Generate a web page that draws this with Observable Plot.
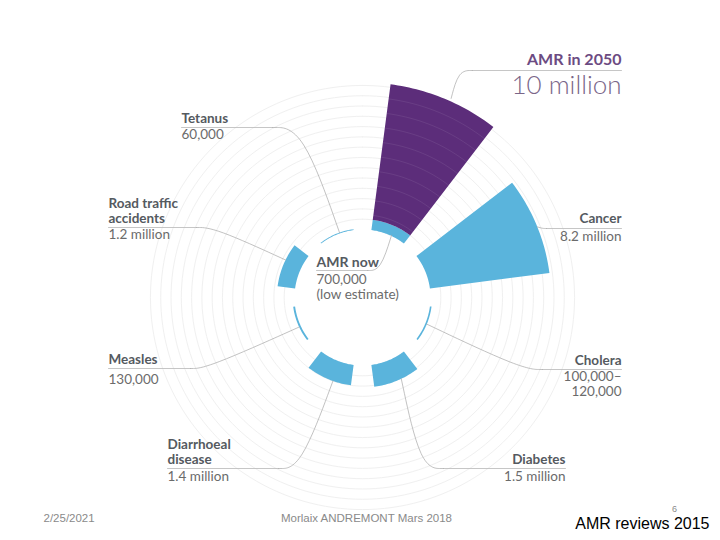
<!DOCTYPE html>
<html><head><meta charset="utf-8">
<script src="https://cdn.jsdelivr.net/npm/d3@7"></script>
<script src="https://cdn.jsdelivr.net/npm/@observablehq/plot@0.6"></script>
<style>body{margin:0;background:#fff;}</style>
</head><body><div id="chart"></div>
<script>
// ---- data ----
const categories = ["AMR in 2050","Cancer","Cholera","Diabetes","Diarrhoeal disease","Measles","Road traffic accidents","Tetanus"];
const deathsMillions = [10, 8.2, 0.11, 1.5, 1.4, 0.13, 1.2, 0.06];
const amrNowMillions = 0.7;
const titleLines = [["AMR in 2050"],["Cancer"],["Cholera"],["Diabetes"],["Diarrhoeal","disease"],["Measles"],["Road traffic","accidents"],["Tetanus"]];
const valueLines = [["10 million"],["8.2 million"],["100,000–","120,000"],["1.5 million"],["1.4 million"],["130,000"],["1.2 million"],["60,000"]];
const amrNowLines = ["AMR now","700,000","(low estimate)"];
const gridStepMillions = 0.7;
const footerLeft = "2/25/2021", footerCenter = "Morlaix ANDREMONT Mars 2018", footerRight = "AMR reviews 2015", slideNo = "6";

// ---- layout ----
const W = 720, H = 540, CX = 362, CY = 297, K = 14.7; // px per million
const R0 = 68 / K;             // inner hole, in million units
const ux = px => (px - CX) / K, uy = py => (CY - py) / K;
const n = categories.length, stepDeg = 360 / n, halfW = 15;
const PURPLE = "#5c2d7a", BLUE = "#5ab4dc";

function arc(t0, t1, r, seg = 30) {
  return d3.range(seg + 1).map(j => {
    const t = (t0 + (t1 - t0) * j / seg) * Math.PI / 180;
    return [r * Math.sin(t), r * Math.cos(t)];
  });
}
function polar(tDeg, r) { const t = tDeg * Math.PI / 180; return [r * Math.sin(t), r * Math.cos(t)]; }
function sector(id, t0, t1, rIn, rOut) {
  return [...arc(t0, t1, rOut), ...arc(t1, t0, rIn)].map(([x, y]) => ({id, x, y}));
}
const thetaOf = i => (i + 0.5) * stepDeg;

// bars
const blueBars = [], purpleBars = [];
categories.forEach((c, i) => {
  const th = thetaOf(i);
  if (i === 0) {
    purpleBars.push(...sector(c, th - halfW, th + halfW, R0 + amrNowMillions, R0 + deathsMillions[i]));
  } else {
    blueBars.push(...sector(c, th - halfW, th + halfW, R0, R0 + deathsMillions[i]));
  }
});
blueBars.push(...sector("AMR now", thetaOf(0) - halfW, thetaOf(0) + halfW, R0, R0 + amrNowMillions));

// grid rings
const gridRings = [];
d3.range(1, 15).forEach(k => arc(0, 360, R0 + k * gridStepMillions, 180).forEach(([x, y]) => gridRings.push({ring: k, x, y})));
// faint 1M lines across the purple bar
const purpleLines = [];
d3.range(1, 10).forEach(k => arc(thetaOf(0) - halfW, thetaOf(0) + halfW, R0 + k, 20).forEach(([x, y]) => purpleLines.push({ring: k, x, y})));

// annotation layout (px)
const labelLayout = [
  {anchor: "end",   x: 621, ty: 64,  ry: 70,  vy: 93,  rule: [472, 621], from: 472, elbow: 458, tOff: 1.5},
  {anchor: "end",   x: 621, ty: 222, ry: 228, vy: 240, rule: [546, 621], from: 546, elbow: 542, tOff: 1},
  {anchor: "end",   x: 621, ty: 364, ry: 369, vy: 380, rule: [542, 621], from: 542, elbow: 522, tOff: 0},
  {anchor: "end",   x: 565, ty: 463, ry: 468, vy: 480, rule: [443, 565], from: 443, elbow: 420, tOff: -3},
  {anchor: "start", x: 167, ty: 448, ry: 468, vy: 480, rule: [167, 278], from: 278, elbow: 300, tOff: -3},
  {anchor: "start", x: 108, ty: 363, ry: 368, vy: 383, rule: [108, 190], from: 190, elbow: 206, tOff: -2.5},
  {anchor: "start", x: 108, ty: 207, ry: 227, vy: 238, rule: [108, 196], from: 196, elbow: 214, tOff: 3.5},
  {anchor: "start", x: 181, ty: 122, ry: 127, vy: 138, rule: [181, 272], from: 272, elbow: 302, tOff: 3}
];

const rules = [], leaders = [], titles = [], values = [];
labelLayout.forEach((L, i) => {
  rules.push({id: i, x: ux(L.rule[0]), y: uy(L.ry)}, {id: i, x: ux(L.rule[1]), y: uy(L.ry)});
  const [bx, by] = polar(thetaOf(i) + L.tOff + (i === 1 ? -0.5 : 0), R0 + deathsMillions[i] + (i === 0 ? 0.2 : 0));
  leaders.push({id: i, x: ux(L.from), y: uy(L.ry)}, {id: i, x: ux(L.elbow), y: uy(L.ry)}, {id: i, x: bx, y: by});
  titleLines[i].forEach((t, j) => titles.push({i, text: t, x: ux(L.x), y: uy(L.ty + j * 15), anchor: L.anchor}));
  valueLines[i].forEach((t, j) => values.push({i, text: t, x: ux(L.x), y: uy(L.vy + j * 15), anchor: L.anchor}));
});
// AMR now label
rules.push({id: "now", x: ux(316), y: uy(270)}, {id: "now", x: ux(367), y: uy(270)});
{
  const [bx, by] = polar(thetaOf(0) + 2.5, R0 + 0.05);
  leaders.push({id: "now", x: ux(367), y: uy(270)}, {id: "now", x: ux(380), y: uy(270)}, {id: "now", x: bx, y: by});
}

const cat0Title = titles.filter(d => d.i === 0), cat0Value = values.filter(d => d.i === 0);
const titlesStart = titles.filter(d => d.i !== 0 && d.anchor === "start"), titlesEnd = titles.filter(d => d.i !== 0 && d.anchor === "end");
const valuesStart = values.filter(d => d.i !== 0 && d.anchor === "start"), valuesEnd = values.filter(d => d.i !== 0 && d.anchor === "end");
const titleStyle = {x: "x", y: "y", text: "text", lineAnchor: "bottom", fontWeight: "bold", fontSize: 13.5, fill: "#555a5f"};
const valueStyle = {x: "x", y: "y", text: "text", lineAnchor: "bottom", fontSize: 13.5, fill: "#6b6b6b"};
const footFont = "'Liberation Sans', sans-serif";

const chart = Plot.plot({
  width: W, height: H, margin: 0,
  x: {domain: [-CX / K, (W - CX) / K], range: [0, W], axis: null},
  y: {domain: [-(H - CY) / K, CY / K], range: [H, 0], axis: null},
  style: {fontFamily: "Lato, 'Open Sans', sans-serif", background: "#fff"},
  marks: [
    Plot.line(gridRings, {x: "x", y: "y", z: "ring", stroke: "#f0f0f0", strokeWidth: 1}),
    Plot.line(blueBars, {x: "x", y: "y", z: "id", fill: BLUE, stroke: "none"}),
    Plot.line(purpleBars, {x: "x", y: "y", z: "id", fill: PURPLE, stroke: "none"}),
    Plot.line(purpleLines, {x: "x", y: "y", z: "ring", stroke: "#ffffff", strokeOpacity: 0.08, strokeWidth: 1}),
    Plot.line(rules, {x: "x", y: "y", z: "id", stroke: "#b8b8b8", strokeWidth: 0.8}),
    Plot.line(leaders, {x: "x", y: "y", z: "id", stroke: "#a8a8a8", strokeWidth: 0.7, curve: "basis"}),
    Plot.text(titlesStart, {...titleStyle, textAnchor: "start"}),
    Plot.text(titlesEnd, {...titleStyle, textAnchor: "end"}),
    Plot.text(valuesStart, {...valueStyle, textAnchor: "start"}),
    Plot.text(valuesEnd, {...valueStyle, textAnchor: "end"}),
    Plot.text(cat0Title, {x: "x", y: "y", text: "text", textAnchor: "end", lineAnchor: "bottom", fontWeight: "bold", fontSize: 16, fill: "#6c4b82"}),
    Plot.text(cat0Value, {x: "x", y: "y", text: "text", textAnchor: "end", lineAnchor: "bottom", fontWeight: 300, fontSize: 26, fill: "#7a6688"}),
    Plot.text([amrNowLines[0]], {x: ux(316), y: uy(266), text: d => d, textAnchor: "start", lineAnchor: "bottom", fontWeight: "bold", fontSize: 14, fill: "#555a5f"}),
    Plot.text(amrNowLines.slice(1), {x: ux(316), y: (d, j) => uy(283 + j * 15), text: d => d, textAnchor: "start", lineAnchor: "bottom", fontSize: 13.5, fill: "#6b6b6b"}),
    Plot.text([footerLeft], {x: ux(43), y: uy(521), text: d => d, textAnchor: "start", lineAnchor: "bottom", fontSize: 11.5, fill: "#8a8a8a", fontFamily: footFont}),
    Plot.text([footerCenter], {x: ux(366), y: uy(521), text: d => d, textAnchor: "middle", lineAnchor: "bottom", fontSize: 11.5, fill: "#8a8a8a", fontFamily: footFont}),
    Plot.text([footerRight], {x: ux(709), y: uy(528), text: d => d, textAnchor: "end", lineAnchor: "bottom", fontSize: 16, fill: "#000", fontFamily: footFont}),
    Plot.text([slideNo], {x: ux(674), y: uy(511), text: d => d, textAnchor: "middle", lineAnchor: "bottom", fontSize: 9, fill: "#8a8a8a", fontFamily: footFont})
  ]
});
document.getElementById("chart").append(chart);
</script>
</body></html>
